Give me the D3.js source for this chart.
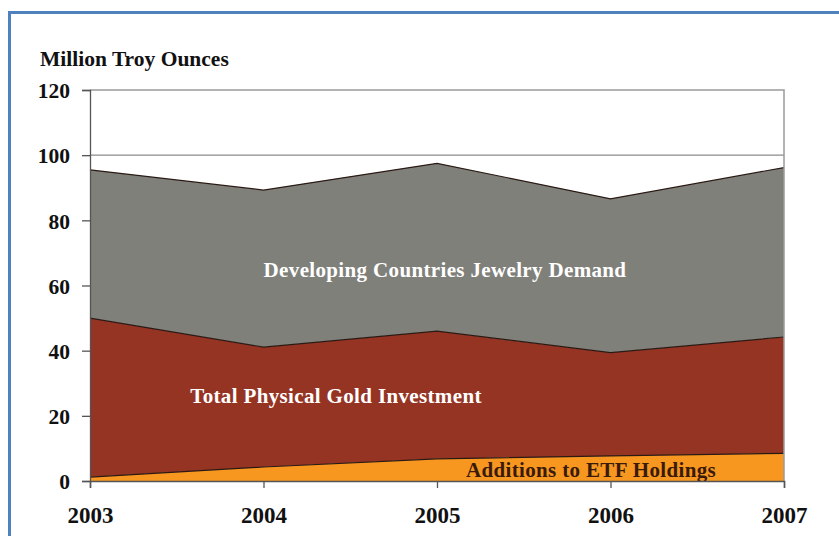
<!DOCTYPE html>
<html>
<head>
<meta charset="utf-8">
<script src="https://cdn.jsdelivr.net/npm/d3@7"></script>
<style>
  body { margin: 0; background: #fff; }
  svg text { font-family: "Liberation Serif", "Times New Roman", serif; font-weight: bold; }
</style>
</head>
<body>
<div id="chart"></div>
<script>
// data (layer thickness, million troy ounces)
var years = ["2003", "2004", "2005", "2006", "2007"];
var etf = [1.2, 4.3, 6.8, 7.7, 8.5];
var physical = [48.8, 36.8, 39.2, 31.7, 35.7];
var jewelry = [45.5, 48.2, 51.5, 47.2, 52.0];
var yTicks = [0, 20, 40, 60, 80, 100, 120];
var seriesNames = ["etf", "physical", "jewelry"];
var seriesLabels = ["Additions to ETF Holdings", "Total Physical Gold Investment", "Developing Countries Jewelry Demand"];

var colors = { etf: "#f7971f", physical: "#963424", jewelry: "#80807a" };

var W = 839, H = 536;
var margin = { top: 90, right: 55, bottom: 55, left: 90 };
var width = W - margin.left - margin.right;
var height = H - margin.top - margin.bottom;

var table = years.map(function (y, i) {
  return { year: y, etf: etf[i], physical: physical[i], jewelry: jewelry[i] };
});

var svg = d3.select("#chart").append("svg")
  .attr("width", W)
  .attr("height", H);

// blue frame
svg.append("path")
  .attr("d", "M9.5," + H + "V12.5H" + W)
  .attr("fill", "none")
  .attr("stroke", "#4f81bd")
  .attr("stroke-width", 3);

var g = svg.append("g")
  .attr("transform", "translate(" + margin.left + "," + margin.top + ")");

var x = d3.scalePoint().domain(years).range([0, width]);
var y = d3.scaleLinear().domain([0, 120]).range([height, 0]);

var stack = d3.stack().keys(seriesNames);
var layers = stack(table);

var area = d3.area()
  .x(function (d) { return x(d.data.year); })
  .y0(function (d) { return y(d[0]); })
  .y1(function (d) { return y(d[1]); });

var topLine = d3.line()
  .x(function (d) { return x(d.data.year); })
  .y(function (d) { return y(d[1]); });

g.append("clipPath").attr("id", "plotclip")
  .append("rect").attr("width", width).attr("height", height);

// gridline at 100 and plot border
g.append("line")
  .attr("x1", 0).attr("x2", width)
  .attr("y1", y(100)).attr("y2", y(100))
  .attr("stroke", "#8c8c8c").attr("stroke-width", 1.3);

g.selectAll(".layer")
  .data(layers)
  .enter().append("path")
  .attr("class", "layer")
  .attr("fill", function (d) { return colors[d.key]; })
  .attr("d", area);

g.selectAll(".edge")
  .data(layers)
  .enter().append("path")
  .attr("class", "edge")
  .attr("fill", "none")
  .attr("stroke", "#2a1a14")
  .attr("stroke-width", 1.2)
  .attr("d", topLine);

g.append("path")
  .attr("d", "M0," + y(120) + "H" + width + "V" + height)
  .attr("fill", "none")
  .attr("stroke", "#9a9a9a")
  .attr("stroke-width", 1.5);

// series labels
var labelPos = [
  { x: 591, y: 477, fill: "#3a1a0a" },
  { x: 336, y: 403, fill: "#fff" },
  { x: 445, y: 277, fill: "#fff" }
];
g.append("g").attr("clip-path", "url(#plotclip)")
  .selectAll("text")
  .data(seriesLabels)
  .enter().append("text")
  .attr("x", function (d, i) { return labelPos[i].x - margin.left; })
  .attr("y", function (d, i) { return labelPos[i].y - margin.top; })
  .attr("text-anchor", "middle")
  .attr("fill", function (d, i) { return labelPos[i].fill; })
  .style("font-size", "21px")
  .style("letter-spacing", "0.35px")
  .text(function (d) { return d; });

// axes
var yAxis = d3.axisLeft(y).tickValues(yTicks).tickSize(8).tickPadding(12);
var xAxis = d3.axisBottom(x).tickSize(7).tickPadding(19);

var ya = g.append("g").call(yAxis);
ya.select(".domain").attr("stroke", "#555").attr("stroke-width", 1.3);
ya.selectAll(".tick line").attr("stroke", "#555").attr("stroke-width", 1.3);
ya.selectAll("text").style("font-size", "21.5px").attr("fill", "#111").attr("dy", "0.36em");

var xa = g.append("g").attr("transform", "translate(0," + height + ")").call(xAxis);
xa.select(".domain").attr("stroke", "#555").attr("stroke-width", 1.5);
xa.selectAll(".tick line").attr("stroke", "#555").attr("stroke-width", 1.3);
xa.selectAll("text").style("font-size", "23px").attr("fill", "#111").attr("dy", "0.68em");

svg.append("text")
  .attr("x", 40).attr("y", 66)
  .attr("fill", "#111")
  .style("font-size", "21.5px")
  .text("Million Troy Ounces");
</script>
</body>
</html>
